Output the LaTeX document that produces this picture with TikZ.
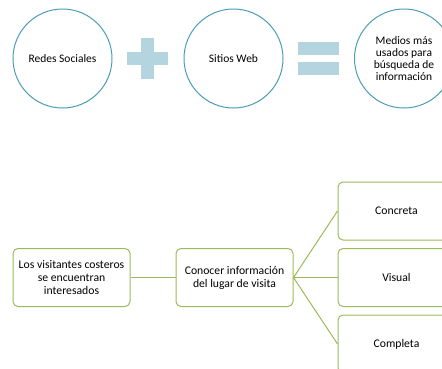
\documentclass[tikz,border=0pt]{standalone}
\usepackage{fontspec}
\setmainfont{Carlito}
\definecolor{ringblue}{HTML}{4A9DB5}
\definecolor{signblue}{HTML}{B4D5E0}
\definecolor{leafgreen}{HTML}{9BBB59}
\begin{document}
\begin{tikzpicture}[x=1pt, y=-1pt, line width=1pt,
  ring node/.style={circle,draw=ringblue,minimum size=99pt,inner sep=0pt,align=center,font=\fontsize{11.5}{12}\selectfont},
  box node/.style={rectangle,rounded corners=5pt,draw=leafgreen,minimum width=117pt,minimum height=58pt,inner sep=0pt,align=center,font=\fontsize{11.7}{13}\selectfont},
  sign/.style={fill=signblue,draw=none}]%
\useasboundingbox (0,0) rectangle (442,368);
\clip (0,0) rectangle (442,368);
\begin{scope}%
\node[ring node] (r1) at (62.5,58.5) {Redes Sociales};
\node[ring node] (r2) at (233.5,58.5) {Sitios Web};
\node[ring node] (r3) at (404,58.5) {Medios más\\usados para\\búsqueda de\\información};
\fill[sign] (141,38) rectangle (154,79);
\fill[sign] (127,52) rectangle (168,65);
\fill[sign] (298,42) rectangle (339,55);
\fill[sign] (298,62) rectangle (339,75);
\end{scope}
\begin{scope}%
\node[box node] (b1) at (71.5,277.5) {Los visitantes costeros\\se encuentran\\interesados};
\node[box node] (b2) at (234.5,277.5) {Conocer información\\del lugar de visita};
\node[box node] (b3) at (396.5,211) {Concreta};
\node[box node] (b4) at (396.5,277.5) {Visual};
\node[box node] (b5) at (396.5,344) {Completa};
\end{scope}
\begin{scope}[every edge/.style={draw=leafgreen,line width=1pt}]
\draw  (b1) edge (b2);
\draw  (b2.east) edge (b3.west);
\draw  (b2.east) edge (b4.west);
\draw  (b2.east) edge (b5.west);
\end{scope}
\end{tikzpicture}
\end{document}
